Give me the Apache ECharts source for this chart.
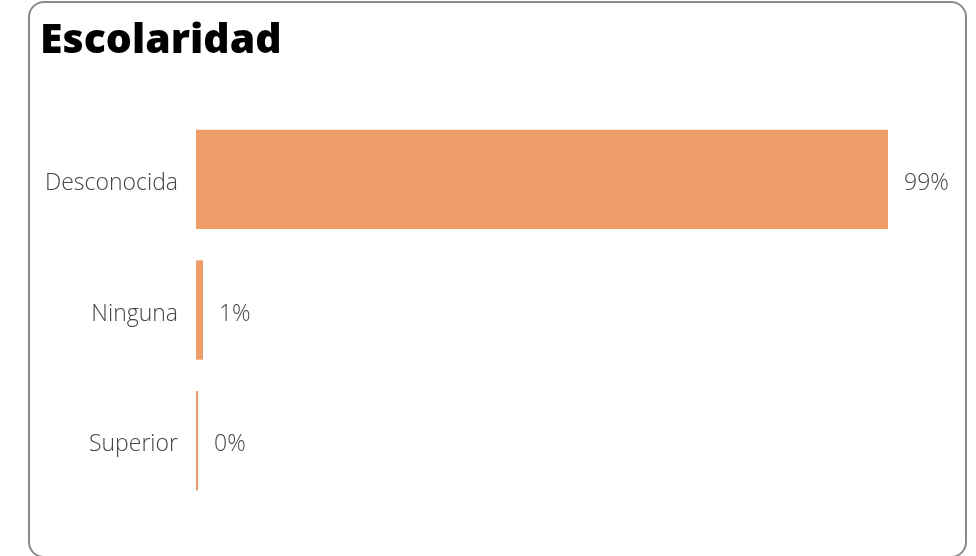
<!DOCTYPE html>
<html><head><meta charset="utf-8">
<script src="https://cdn.jsdelivr.net/npm/echarts@6/dist/echarts.min.js"></script>
<style>
html,body{margin:0;padding:0;background:#fff;}
#frame{position:absolute;left:28px;top:1px;width:939px;height:557px;border:2px solid #8a8a8a;border-radius:16px;box-sizing:border-box;}
#c{position:absolute;left:0;top:0;width:976px;height:556px;}
</style></head>
<body>
<div id="frame"></div>
<div id="c"></div>
<script>
const title = "Escolaridad";
const categories = ["Desconocida", "Ninguna", "Superior"];
const values = [99, 1, 0.3];
const labels = ["99%", "1%", "0%"];

const chart = echarts.init(document.getElementById('c'), null, {renderer:'canvas'});
const lblFont = {fontFamily:'Open Sans',fontWeight:300,fontSize:23,color:'#444'};
chart.setOption({
  animation:false,
  title:{text:title,left:35,top:16,textStyle:{fontFamily:'Open Sans',fontWeight:800,fontSize:41,color:'#000'}},
  grid:{left:196,right:88,top:114,bottom:50,containLabel:false},
  xAxis:{type:'value',min:0,max:99,show:false},
  yAxis:{type:'category',data:categories,inverse:true,
    axisLine:{show:false},axisTick:{show:false},splitLine:{show:false},
    axisLabel:{margin:18,formatter:v=>'{a|'+v+'}',
      rich:{a:Object.assign({padding:[8,0,0,0]},lblFont)}}},
  series:[{type:'bar',data:values,barCategoryGap:'24%',
    itemStyle:{color:'#EE9D68'},
    label:Object.assign({show:true,position:'right',distance:16,offset:[0,4],
      formatter:p=>labels[p.dataIndex]},lblFont)}]
});
</script>
</body></html>
